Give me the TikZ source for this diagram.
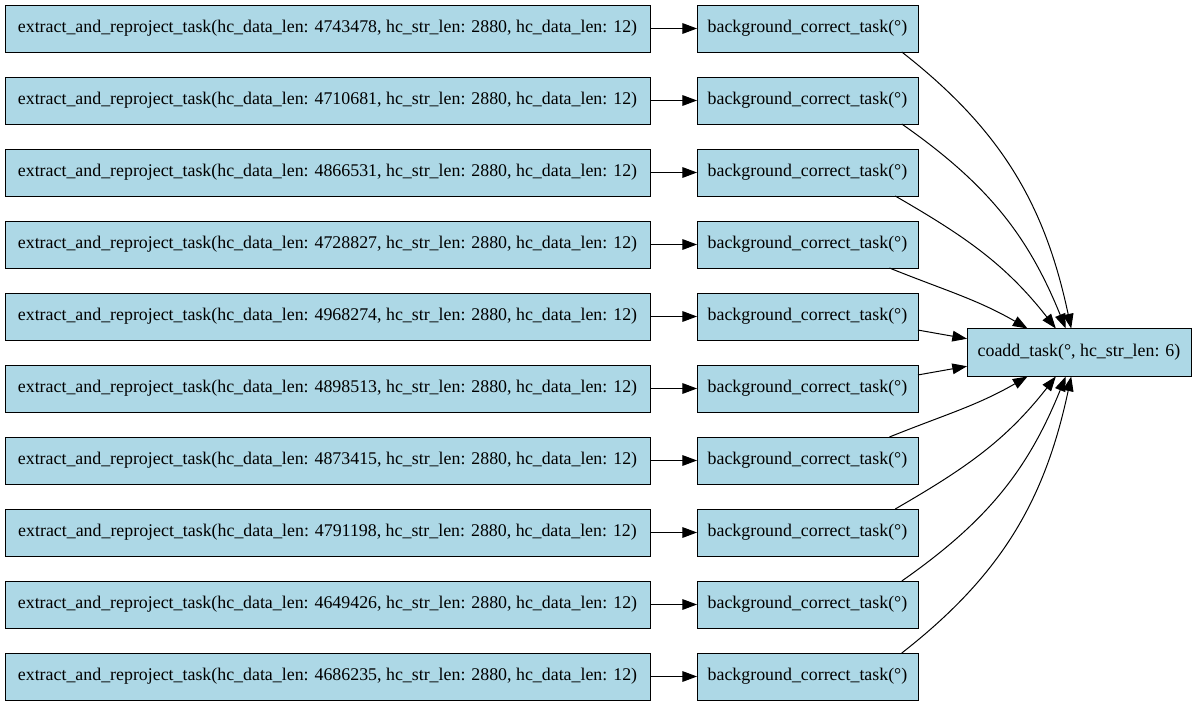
\documentclass[tikz,border=0pt]{standalone}
\usepackage{fontspec}
\setmainfont{Liberation Serif}
\usepackage{tikz}
\usetikzlibrary{positioning,calc,arrows.meta}

\definecolor{lightblue}{HTML}{ADD8E6}
\tikzset{
  task/.style={draw, fill=lightblue, line width=0.75pt, inner sep=0pt, outer sep=0pt, minimum height=35.25pt, font=\fontsize{13.4pt}{16pt}\selectfont},
  extracttask/.style={task, minimum width=483.75pt},
  bgtask/.style={task, minimum width=165.75pt},
  coaddtask/.style={task, minimum width=168pt, minimum height=36pt}
}

\begin{document}
\begin{tikzpicture}[x=0.75pt, y=-0.75pt, node distance=18.75pt and 35.25pt, >={Triangle[length=11pt,width=8pt]}, line width=0.75pt]
  \useasboundingbox (0,0) rectangle (1197,707);
  \node (ex1) [extracttask, anchor=north west] at (5,5) {extract\_and\_reproject\_task(hc\_data\_len: 4743478, hc\_str\_len: 2880, hc\_data\_len: 12)};
  \node (ex2) [extracttask, below=of ex1] {extract\_and\_reproject\_task(hc\_data\_len: 4710681, hc\_str\_len: 2880, hc\_data\_len: 12)};
  \node (ex3) [extracttask, below=of ex2] {extract\_and\_reproject\_task(hc\_data\_len: 4866531, hc\_str\_len: 2880, hc\_data\_len: 12)};
  \node (ex4) [extracttask, below=of ex3] {extract\_and\_reproject\_task(hc\_data\_len: 4728827, hc\_str\_len: 2880, hc\_data\_len: 12)};
  \node (ex5) [extracttask, below=of ex4] {extract\_and\_reproject\_task(hc\_data\_len: 4968274, hc\_str\_len: 2880, hc\_data\_len: 12)};
  \node (ex6) [extracttask, below=of ex5] {extract\_and\_reproject\_task(hc\_data\_len: 4898513, hc\_str\_len: 2880, hc\_data\_len: 12)};
  \node (ex7) [extracttask, below=of ex6] {extract\_and\_reproject\_task(hc\_data\_len: 4873415, hc\_str\_len: 2880, hc\_data\_len: 12)};
  \node (ex8) [extracttask, below=of ex7] {extract\_and\_reproject\_task(hc\_data\_len: 4791198, hc\_str\_len: 2880, hc\_data\_len: 12)};
  \node (ex9) [extracttask, below=of ex8] {extract\_and\_reproject\_task(hc\_data\_len: 4649426, hc\_str\_len: 2880, hc\_data\_len: 12)};
  \node (ex10) [extracttask, below=of ex9] {extract\_and\_reproject\_task(hc\_data\_len: 4686235, hc\_str\_len: 2880, hc\_data\_len: 12)};

  \node (bg1) [bgtask, right=of ex1] {background\_correct\_task(°)};
  \node (bg2) [bgtask, right=of ex2] {background\_correct\_task(°)};
  \node (bg3) [bgtask, right=of ex3] {background\_correct\_task(°)};
  \node (bg4) [bgtask, right=of ex4] {background\_correct\_task(°)};
  \node (bg5) [bgtask, right=of ex5] {background\_correct\_task(°)};
  \node (bg6) [bgtask, right=of ex6] {background\_correct\_task(°)};
  \node (bg7) [bgtask, right=of ex7] {background\_correct\_task(°)};
  \node (bg8) [bgtask, right=of ex8] {background\_correct\_task(°)};
  \node (bg9) [bgtask, right=of ex9] {background\_correct\_task(°)};
  \node (bg10) [bgtask, right=of ex10] {background\_correct\_task(°)};

  \coordinate (mid) at ($(bg5.east)!0.5!(bg6.east)$);
  \node (coadd) [coaddtask, right=36.75pt of mid] {coadd\_task(°, hc\_str\_len: 6)};

  \draw[->] (ex1) -- (bg1);
  \draw[->] (ex2) -- (bg2);
  \draw[->] (ex3) -- (bg3);
  \draw[->] (ex4) -- (bg4);
  \draw[->] (ex5) -- (bg5);
  \draw[->] (ex6) -- (bg6);
  \draw[->] (ex7) -- (bg7);
  \draw[->] (ex8) -- (bg8);
  \draw[->] (ex9) -- (bg9);
  \draw[->] (ex10) -- (bg10);

  \draw[->] (bg1.-14) to[out=-38, in=102] (coadd.108);
  \draw[->] (bg2.-14.5) to[out=-35, in=112] (coadd.119);
  \draw[->] (bg3.-15) to[out=-30, in=128] (coadd.134);
  \draw[->] (bg4.-16) to[out=-22, in=150] (coadd.155);
  \draw[->] (bg5.-7.6) -- (coadd.173);
  \draw[->] (bg6.7.6) -- (coadd.-173);
  \draw[->] (bg7.16) to[out=22, in=-150] (coadd.-155);
  \draw[->] (bg8.15) to[out=30, in=-128] (coadd.-134);
  \draw[->] (bg9.14.5) to[out=35, in=-112] (coadd.-119);
  \draw[->] (bg10.14) to[out=38, in=-102] (coadd.-108);
\end{tikzpicture}
\end{document}
